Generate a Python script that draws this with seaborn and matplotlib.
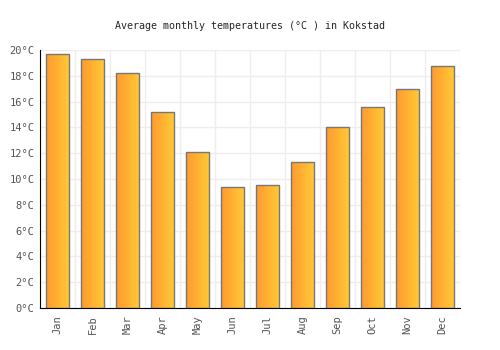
import numpy as np
import pandas as pd
import seaborn as sns
import matplotlib.pyplot as plt
from matplotlib.colors import LinearSegmentedColormap

sns.set_style('white')
plt.rcParams['font.family'] = ['DejaVu Sans Mono']

months = ['Jan', 'Feb', 'Mar', 'Apr', 'May', 'Jun', 'Jul', 'Aug', 'Sep', 'Oct', 'Nov', 'Dec']
temps = [19.7, 19.3, 18.2, 15.2, 12.1, 9.4, 9.5, 11.3, 14.0, 15.6, 17.0, 18.8]
df = pd.DataFrame({'month': months, 'temp': temps})

fig = plt.figure(figsize=(5, 3.5), dpi=100)
ax = fig.add_axes([0.08, 0.12, 0.84, 0.737])

sns.barplot(data=df, x='month', y='temp', ax=ax, width=0.68,
            color='#ffb030', edgecolor='#777777', linewidth=1, zorder=3)

# horizontal gradient inside each bar
cmap = LinearSegmentedColormap.from_list('og', ['#ff9a30', '#ffca35'])
grad = np.linspace(0, 1, 64).reshape(1, -1)
for p in ax.patches:
    x0, y0 = p.get_x(), p.get_y()
    w, h = p.get_width(), p.get_height()
    im = ax.imshow(grad, cmap=cmap, aspect='auto', extent=[x0, x0 + w, y0, y0 + h], zorder=2.5)
    im.set_clip_path(p)
    p.set_facecolor('none')

ax.set_xlim(-0.5, 11.5)
ax.set_ylim(0, 20)
ax.set_yticks(range(0, 21, 2))
ax.set_yticklabels([f'{v}°C' for v in range(0, 21, 2)])
ax.set_xticks(range(len(months)))
ax.set_xticklabels(months, rotation=90)
ax.set_xticks(np.arange(-0.5, 12, 1), minor=True)
ax.grid(True, which='minor', axis='x', color='#eeeeee', lw=1, zorder=0)
ax.grid(True, which='major', axis='y', color='#eeeeee', lw=1, zorder=0)
ax.tick_params(axis='x', which='both', length=0, colors='#555555', labelsize=7.5, pad=5)
ax.tick_params(axis='y', length=0, colors='#555555', labelsize=7.5, pad=4)
ax.xaxis.set_tick_params(labelrotation=90)
ax.set_xlabel('')
ax.set_ylabel('')
for s in ['top', 'right']:
    ax.spines[s].set_visible(False)
ax.spines['left'].set_color('black')
ax.spines['bottom'].set_color('black')
ax.set_title('Average monthly temperatures (°C ) in Kokstad', fontsize=7.2, pad=15)

for lbl in ax.get_xticklabels():
    lbl.set_rotation(90)

fig.savefig('out.png', dpi=100)
